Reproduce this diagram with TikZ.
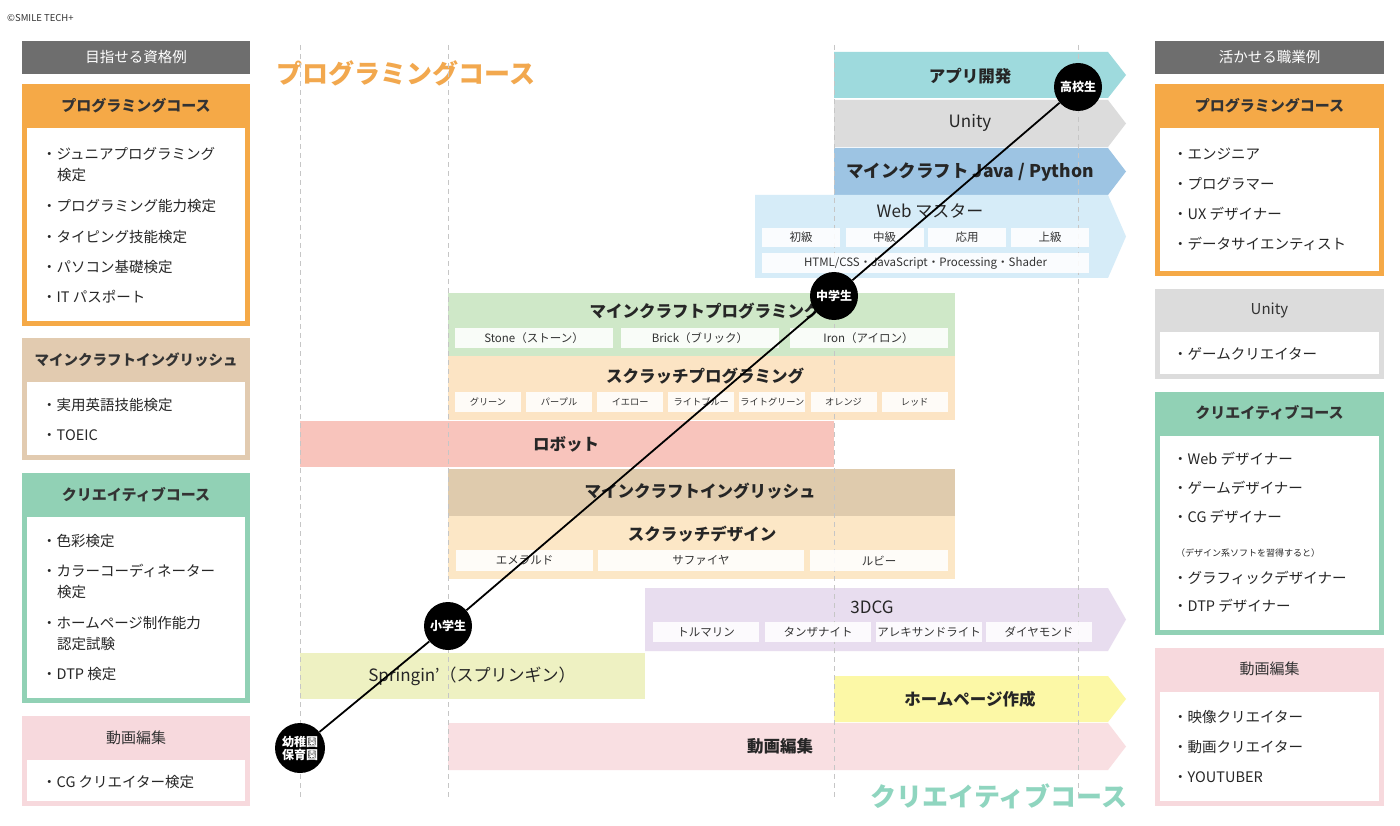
\documentclass[tikz,border=0pt]{standalone}
\usepackage{fontspec}
\setmainfont{Noto Sans CJK JP}
\usetikzlibrary{positioning}
\definecolor{hdrgray}{HTML}{6E6E6E}
\definecolor{progC}{HTML}{F5A947}
\definecolor{progT}{HTML}{F2A84E}
\definecolor{mceC}{HTML}{E2CBB0}
\definecolor{creaC}{HTML}{91D1B5}
\definecolor{creaT}{HTML}{8FD5BF}
\definecolor{videoC}{HTML}{F7D9DD}
\definecolor{unityC}{HTML}{DCDCDC}
\definecolor{appC}{HTML}{9EDADD}
\definecolor{javaC}{HTML}{9DC4E3}
\definecolor{webC}{HTML}{D6ECF8}
\definecolor{mcpC}{HTML}{CFE8C8}
\definecolor{scpC}{HTML}{FCE4C4}
\definecolor{robotC}{HTML}{F8C4BC}
\definecolor{mcebarC}{HTML}{DFCBAD}
\definecolor{scdC}{HTML}{FCE7C6}
\definecolor{cgC}{HTML}{E8DDEF}
\definecolor{springC}{HTML}{EEF1C2}
\definecolor{hpC}{HTML}{FCF8A6}
\definecolor{movC}{HTML}{F9DFE2}
\tikzset{
  boxhdr/.style={font=\fontsize{15}{18}\selectfont, text=black!80},
  item/.style={anchor=west, inner sep=0pt, font=\fontsize{14.5}{17}\selectfont, text=black!85},
  cell/.style={fill=white, fill opacity=0.88, text opacity=1, inner sep=0pt,
    font=\fontsize{11.5}{13}\selectfont, text=black!80},
  bartxt/.style={font=\bfseries\fontsize{16.5}{19}\selectfont, text=black!85},
  barthin/.style={font=\fontsize{17}{20}\selectfont, text=black!85},
  stage/.style={circle, fill=black, text=white, minimum size=48pt, inner sep=0pt,
    align=center, font=\bfseries\fontsize{12}{13}\selectfont},
  guide/.style={gray!45, line width=0.8pt, dash pattern=on 5pt off 4pt},
}
\begin{document}
\begin{tikzpicture}[x=1pt,y=-1pt]
\useasboundingbox (0,0) rectangle (1400,826);
\fill[white] (0,0) rectangle (1400,826);

\node[anchor=west, inner sep=0pt, font=\fontsize{9.5}{11}\selectfont, text=black!80] (copy) at (7,18) {©SMILE TECH+};

% left column
\fill[hdrgray] (22,41) rectangle (250,74);
\node[text=white, font=\fontsize{14.5}{17}\selectfont] (lhead) at (136,57.5) {目指せる資格例};

\fill[progC] (22,84) rectangle (250,326);
\fill[white] (27,128) rectangle (245,321);
\node[boxhdr, font=\bfseries\fontsize{15}{18}\selectfont] (lprog) at (136,106) {プログラミングコース};
\node[item] (lp1) at (42,154) {・ジュニアプログラミング};
\node[item] (lp1b) at (57,175) {検定};
\node[item] (lp2) at (42,206) {・プログラミング能力検定};
\node[item] (lp3) at (42,237) {・タイピング技能検定};
\node[item] (lp4) at (42,267) {・パソコン基礎検定};
\node[item] (lp5) at (42,297) {・IT パスポート};

\fill[mceC] (22,338) rectangle (250,460);
\fill[white] (27,382) rectangle (245,455);
\node[boxhdr, font=\bfseries\fontsize{14.5}{17}\selectfont] (lmce) at (136,360) {マインクラフトイングリッシュ};
\node[item] (le1) at (42,405) {・実用英語技能検定};
\node[item] (le2) at (42,435) {・TOEIC};

\fill[creaC] (22,473) rectangle (250,703);
\fill[white] (27,517) rectangle (245,698);
\node[boxhdr, font=\bfseries\fontsize{15}{18}\selectfont] (lcrea) at (136,495) {クリエイティブコース};
\node[item] (lc1) at (42,541) {・色彩検定};
\node[item] (lc2) at (42,571) {・カラーコーディネーター};
\node[item] (lc2b) at (57,592) {検定};
\node[item] (lc3) at (42,623) {・ホームページ制作能力};
\node[item] (lc3b) at (57,644) {認定試験};
\node[item] (lc4) at (42,674) {・DTP 検定};

\fill[videoC] (22,716) rectangle (250,806);
\fill[white] (27,760) rectangle (245,801);
\node[boxhdr] (lvid) at (136,738) {動画編集};
\node[item] (lv1) at (42,782) {・CG クリエイター検定};

% right column
\fill[hdrgray] (1155,41) rectangle (1384,74);
\node[text=white, font=\fontsize{14.5}{17}\selectfont] (rhead) at (1269.5,57.5) {活かせる職業例};

\fill[progC] (1155,84) rectangle (1384,276);
\fill[white] (1160,128) rectangle (1379,271);
\node[boxhdr, font=\bfseries\fontsize{15}{18}\selectfont] (rprog) at (1269.5,106) {プログラミングコース};
\node[item] (rp1) at (1173,154) {・エンジニア};
\node[item] (rp2) at (1173,184) {・プログラマー};
\node[item] (rp3) at (1173,214) {・UX デザイナー};
\node[item] (rp4) at (1173,244) {・データサイエンティスト};

\fill[unityC] (1155,289) rectangle (1384,379);
\fill[white] (1160,332) rectangle (1379,374);
\node[boxhdr] (runity) at (1269.5,310) {Unity};
\node[item] (ru1) at (1173,354) {・ゲームクリエイター};

\fill[creaC] (1155,392) rectangle (1384,635);
\fill[white] (1160,436) rectangle (1379,630);
\node[boxhdr, font=\bfseries\fontsize{15}{18}\selectfont] (rcrea) at (1269.5,413) {クリエイティブコース};
\node[item] (rc1) at (1173,459) {・Web デザイナー};
\node[item] (rc2) at (1173,488) {・ゲームデザイナー};
\node[item] (rc3) at (1173,517) {・CG デザイナー};
\node[item, font=\fontsize{9}{11}\selectfont] (rcn) at (1176,553) {（デザイン系ソフトを習得すると）};
\node[item] (rc4) at (1173,578) {・グラフィックデザイナー};
\node[item] (rc5) at (1173,606) {・DTP デザイナー};

\fill[videoC] (1155,648) rectangle (1384,806);
\fill[white] (1160,692) rectangle (1379,801);
\node[boxhdr] (rvid) at (1269.5,669) {動画編集};
\node[item] (rv1) at (1173,717) {・映像クリエイター};
\node[item] (rv2) at (1173,747) {・動画クリエイター};
\node[item] (rv3) at (1173,777) {・YOUTUBER};

% course titles
\node[text=progT, font=\bfseries\fontsize{26}{30}\selectfont] (tprog) at (406,73) {プログラミングコース};
\node[text=creaT, font=\bfseries\fontsize{26}{30}\selectfont] (tcrea) at (999,796) {クリエイティブコース};

% arrow bars
\foreach \yt/\yb/\col in {52/98/appC, 100/147/unityC, 148/195/javaC}
  \fill[\col] (834,\yt) -- (1108,\yt) -- (1126,{(\yt+\yb)/2}) -- (1108,\yb) -- (834,\yb) -- cycle;
\fill[webC] (755,195) -- (1108,195) -- (1126,236.5) -- (1108,278) -- (755,278) -- cycle;
\fill[cgC] (645,588) -- (1108,588) -- (1126,619.5) -- (1108,651) -- (645,651) -- cycle;
\fill[hpC] (834,676) -- (1108,676) -- (1126,699) -- (1108,722) -- (834,722) -- cycle;
\fill[movC] (448,723) -- (1108,723) -- (1126,746.5) -- (1108,770) -- (448,770) -- cycle;

% plain bars
\fill[mcpC] (448,293) rectangle (955,356);
\fill[scpC] (448,356) rectangle (955,420);
\fill[robotC] (300,421) rectangle (834,467);
\fill[mcebarC] (448,469) rectangle (955,516);
\fill[scdC] (448,516) rectangle (955,579);
\fill[springC] (300,653) rectangle (645,699);

% guides
\foreach \gx in {300,448,834,1078}
  \draw[guide] (\gx,45) -- (\gx,800);

% cells
\foreach \cx/\lbl in {801/初級, 884.5/中級, 967/応用, 1050/上級}
  \node[cell, minimum width=78pt, minimum height=19pt] at (\cx,237.5) {\lbl};
\node[cell, minimum width=327pt, minimum height=20pt] (webline) at (925.5,263) {HTML/CSS・JavaScript・Processing・Shader};
\foreach \cx/\lbl in {534/Stone（ストーン）, 700/Brick（ブリック）, 868.5/Iron（アイロン）}
  \node[cell, minimum width=158pt, minimum height=20pt] at (\cx,338) {\lbl};
\foreach \lbl [count=\i from 0] in {グリーン, パープル, イエロー, ライトブルー, ライトグリーン, オレンジ, レッド}
  \node[cell, minimum width=66pt, minimum height=20pt, font=\fontsize{9.2}{11}\selectfont] at ({488+\i*71.1},402) {\lbl};
\node[cell, minimum width=137pt, minimum height=21pt] (emr) at (524.5,560.5) {エメラルド};
\node[cell, minimum width=206pt, minimum height=21pt] (sap) at (701,560.5) {サファイヤ};
\node[cell, minimum width=138pt, minimum height=21pt] (rub) at (879,560.5) {ルビー};
\foreach \cx/\lbl in {706/トルマリン, 818/タンザナイト, 929/アレキサンドライト, 1039/ダイヤモンド}
  \node[cell, minimum width=106pt, minimum height=20pt] at (\cx,632) {\lbl};

% bar labels
\node[bartxt] (app) at (970,76) {アプリ開発};
\node[barthin] (unity) at (970,123) {Unity};
\node[bartxt, font=\bfseries\fontsize{17.5}{20}\selectfont] (java) at (970,172) {マインクラフト Java / Python};
\node[barthin] (web) at (930,211) {Web マスター};
\node[bartxt] (mcp) at (705,311) {マインクラフトプログラミング};
\node[bartxt] (scp) at (705,376) {スクラッチプログラミング};
\node[bartxt] (robot) at (566,444) {ロボット};
\node[bartxt] (mce) at (700,491) {マインクラフトイングリッシュ};
\node[bartxt] (scd) at (702,534) {スクラッチデザイン};
\node[barthin] (cg) at (872,607) {3DCG};
\node[barthin] (spring) at (472,676) {Springin'（スプリンギン）};
\node[bartxt] (hp) at (970,699) {ホームページ作成};
\node[bartxt] (mov) at (780,746) {動画編集};

% stages
\node[stage, minimum size=50pt] (kinder) at (300,748) {幼稚園\\保育園};
\node[stage] (elem) at (448,626) {小学生};
\node[stage] (junior) at (834,296) {中学生};
\node[stage] (high) at (1078,87) {高校生};
\draw[line width=1.8pt] (kinder) -- (elem) -- (junior) -- (high);

\end{tikzpicture}
\end{document}
